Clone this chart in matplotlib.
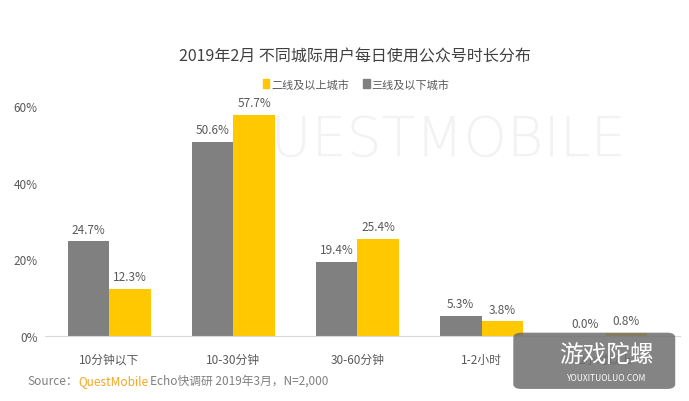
import numpy as np
import matplotlib.pyplot as plt
from matplotlib.patches import Patch, FancyBboxPatch

plt.rcParams['font.family'] = ['Noto Sans CJK SC', 'DejaVu Sans']

categories = ['10分钟以下', '10-30分钟', '30-60分钟', '1-2小时', '2小时以上']
tier3_below = [24.7, 50.6, 19.4, 5.3, 0.0]   # 三线及以下城市 (gray)
tier2_above = [12.3, 57.7, 25.4, 3.8, 0.8]   # 二线及以上城市 (yellow)
y_ticks = [0, 20, 40, 60]

gray = '#808080'
yellow = '#FFC800'
text_c = '#595959'

fig = plt.figure(figsize=(6.89, 4.02), dpi=100)

# faint background watermark, drawn under the axes
fig.text(0.33, 0.61, 'QUESTMOBILE', fontsize=40, color='#f2f2f2', zorder=-1,
         family='DejaVu Sans', fontweight='light')

ax = fig.add_axes([0.065, 0.162, 0.922, 0.572])
ax.patch.set_alpha(0)

x = np.arange(len(categories))
w = 0.335
b1 = ax.bar(x - w / 2, tier3_below, w, color=gray, zorder=2)
b2 = ax.bar(x + w / 2, tier2_above, w, color=yellow, zorder=2)

for bars in (b1, b2):
    for r in bars:
        ax.annotate(f'{r.get_height():.1f}%', (r.get_x() + r.get_width() / 2, r.get_height()),
                    xytext=(0, 4), textcoords='offset points', ha='center', va='bottom',
                    fontsize=8.5, color=text_c)

ax.set_xlim(-0.52, 4.6)
ax.set_ylim(0, 60)
ax.set_yticks(y_ticks)
ax.set_yticklabels([f'{v}%' for v in y_ticks])
ax.set_xticks(x)
ax.set_xticklabels(categories)
ax.tick_params(axis='both', length=0, labelsize=8.5, labelcolor=text_c)
ax.tick_params(axis='x', pad=12)
ax.tick_params(axis='y', pad=5)
for s in ['top', 'right', 'left']:
    ax.spines[s].set_visible(False)
ax.spines['bottom'].set_color('#d9d9d9')

fig.text(0.515, 0.858, '2019年2月 不同城际用户每日使用公众号时长分布', ha='center', va='center',
         fontsize=11.5, color='#404040')

handles = [Patch(color=yellow), Patch(color=gray)]
fig.legend(handles, ['二线及以上城市', '三线及以下城市'], loc='center', bbox_to_anchor=(0.517, 0.788),
           ncol=2, frameon=False, fontsize=8, handlelength=0.6, handleheight=0.9,
           handletextpad=0.2, columnspacing=1.2, labelcolor=text_c)

# source line
fig.canvas.draw()
r = fig.canvas.get_renderer()
t1 = fig.text(0.04, 0.052, 'Source：', fontsize=8.5, color='#7f7f7f', va='center')
bb = t1.get_window_extent(r)
t2 = fig.text(bb.x1 / fig.bbox.width, 0.052, 'QuestMobile', fontsize=8.5, color='#F5A623', va='center')
bb = t2.get_window_extent(r)
fig.text(bb.x1 / fig.bbox.width + 0.003, 0.052, 'Echo快调研 2019年3月，N=2,000', fontsize=8.5,
         color='#7f7f7f', va='center')

# site watermark box (covers the last category, as in the original)
box = FancyBboxPatch((0.745, 0.03), 0.235, 0.14, boxstyle='round,pad=0,rounding_size=0.012',
                     transform=fig.transFigure, facecolor='#6e6e6e', alpha=0.85,
                     edgecolor='none', zorder=5)
fig.patches.append(box)
fig.text(0.88, 0.115, '游戏陀螺', fontsize=17, color='white', ha='center', va='center', zorder=6)
fig.text(0.88, 0.058, 'YOUXITUOLUO.COM', fontsize=6, color='white', ha='center', va='center', zorder=6)

fig.savefig('out.png', dpi=100)
